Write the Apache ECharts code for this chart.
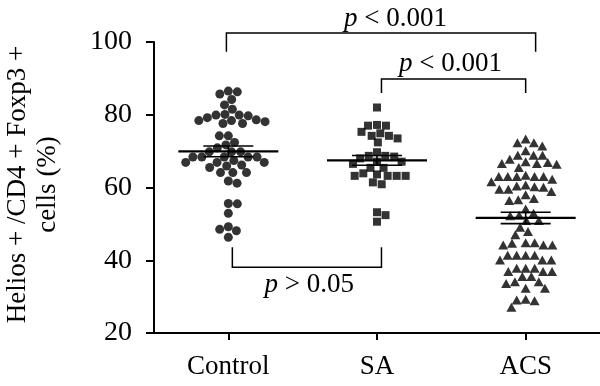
<!DOCTYPE html>
<html><head><meta charset="utf-8">
<script src="https://cdn.jsdelivr.net/npm/echarts@6/dist/echarts.min.js"></script>
<style>html,body{margin:0;padding:0;background:#fff}#c{width:600px;height:386px}</style>
</head><body><div id="c"></div>
<script>
const categories = ['Control', 'SA', 'ACS'];
const yMin = 20, yMax = 100, yInterval = 20;
const yAxisTitle = 'Helios + /CD4 + Foxp3 +\ncells (%)';

const controlValues = [86.5, 86.3, 85.7, 84.2, 82.7, 81.5, 80.1, 79.9, 79.9, 79.7, 79.2, 78.6, 78.4, 78.4, 78.1, 77.6, 77.6, 74.2, 74.2, 72.4, 71.7, 70.9, 69.8, 69.8, 69.8, 68.4, 68.4, 68.4, 68.4, 68.4, 67.4, 66.9, 66.9, 66.9, 66.2, 65.9, 65.5, 64.1, 64.1, 64.1, 61.8, 61.2, 55.6, 55.5, 52.9, 49.2, 48.5, 48.1, 46.3];
const saValues = [82.0, 77.2, 77.0, 77.0, 75.3, 74.9, 74.2, 74.2, 73.5, 72.4, 69.7, 68.7, 68.7, 68.5, 68.0, 67.1, 67.1, 66.5, 65.4, 65.4, 63.9, 63.6, 63.2, 63.2, 63.2, 63.2, 61.4, 60.9, 53.2, 52.4, 50.6];
const acsValues = [73.3, 72.3, 72.3, 71.4, 70.1, 68.9, 68.9, 68.9, 67.8, 67.1, 66.9, 66.6, 66.6, 66.4, 65.5, 63.4, 63.0, 63.0, 63.0, 63.0, 63.0, 62.3, 61.6, 60.7, 60.4, 60.2, 60.1, 59.5, 59.5, 58.9, 58.0, 57.0, 56.6, 56.4, 54.1, 52.9, 52.4, 52.2, 50.9, 50.9, 49.1, 47.9, 47.0, 44.8, 44.8, 44.7, 44.2, 44.2, 44.2, 41.4, 41.4, 41.4, 41.4, 40.1, 40.1, 40.1, 37.8, 37.8, 37.8, 36.9, 36.9, 36.9, 35.5, 35.5, 34.1, 34.1, 33.6, 32.3, 32.3, 29.3, 29.1, 28.9, 27.1];

const comparisonLabels = ['p < 0.001', 'p < 0.001', 'p > 0.05'];

const FONT = '"Liberation Serif", "DejaVu Serif", serif';
const FS = 27;
const groups = [controlValues, saValues, acsValues];
const symbols = ['circle', 'rect', 'triangle'];
const symbolSizes = [9, 8, [10, 9]];

function stats(a) {
  const n = a.length;
  const m = a.reduce((s, v) => s + v, 0) / n;
  const sd = Math.sqrt(a.reduce((s, v) => s + (v - m) * (v - m), 0) / (n - 1));
  return [m, sd / Math.sqrt(n)];
}

// annotation layout (x in category units, y in data units)
const brackets = [
  { x1: 0.987, x2: 3.067, y: 102.5, leg: 97.3, tx: 2.125, ty: 106.4, label: comparisonLabels[0] },
  { x1: 2.03, x2: 3.0, y: 89.8, leg: 86.0, tx: 2.495, ty: 93.9, label: comparisonLabels[1] },
  { x1: 1.027, x2: 2.03, y: 38.1, leg: 43.6, tx: 1.545, ty: 33.2, label: comparisonLabels[2] }
];

const chart = echarts.init(document.getElementById('c'), null, { renderer: 'canvas' });

function buildOption(scatterData) {
  const series = groups.map((g, i) => ({
    type: 'scatter',
    xAxisIndex: 1,
    yAxisIndex: 0,
    symbol: symbols[i],
    symbolSize: symbolSizes[i],
    itemStyle: { color: '#000' },
    silent: true,
    data: scatterData[i]
  }));
  series.push({
    type: 'custom',
    xAxisIndex: 1, yAxisIndex: 0, silent: true,
    data: groups.map((g, i) => { const s = stats(g); return [i + 1, s[0], s[1]]; }),
    renderItem: function (params, api) {
      const x = api.value(0), m = api.value(1), se = api.value(2);
      const c = api.coord([x, m]), hi = api.coord([x, m + se]), lo = api.coord([x, m - se]);
      const half = 50, cap = 25;
      const st = { stroke: '#000', lineWidth: 1.6 };
      return {
        type: 'group', children: [
          { type: 'line', shape: { x1: c[0] - half, y1: c[1], x2: c[0] + half, y2: c[1] }, style: { stroke: '#000', lineWidth: 2.2 } },
          { type: 'line', shape: { x1: c[0] - cap, y1: hi[1], x2: c[0] + cap, y2: hi[1] }, style: st },
          { type: 'line', shape: { x1: c[0] - cap, y1: lo[1], x2: c[0] + cap, y2: lo[1] }, style: st },
          { type: 'line', shape: { x1: c[0], y1: hi[1], x2: c[0], y2: lo[1] }, style: st }
        ]
      };
    }
  });
  series.push({
    type: 'custom',
    xAxisIndex: 1, yAxisIndex: 0, silent: true, clip: false,
    data: brackets.map((b, i) => [i]),
    renderItem: function (params, api) {
      const b = brackets[params.dataIndex];
      const a1 = api.coord([b.x1, b.y]), a2 = api.coord([b.x2, b.y]);
      const l1 = api.coord([b.x1, b.leg]), l2 = api.coord([b.x2, b.leg]);
      const t = api.coord([b.tx, b.ty]);
      const parts = b.label.split(' ');
      return {
        type: 'group', children: [
          { type: 'polyline', shape: { points: [l1, a1, a2, l2] }, style: { stroke: '#000', lineWidth: 1.5, fill: null } },
          { type: 'text', x: t[0], y: t[1], style: {
              text: '{i|' + parts[0] + '} ' + parts.slice(1).join(' '),
              rich: { i: { fontStyle: 'italic', fontFamily: FONT, fontSize: FS, fill: '#000' } },
              fontFamily: FONT, fontSize: FS, fill: '#000', align: 'center', verticalAlign: 'middle' } }
        ]
      };
    }
  });
  return {
    animation: false,
    backgroundColor: '#fff',
    grid: { left: 154, right: 0, top: 42, bottom: 53, containLabel: false, outerBoundsMode: 'none' },
    xAxis: [
      { type: 'category', data: categories, boundaryGap: true,
        axisLine: { show: true, lineStyle: { color: '#000', width: 2 } },
        axisTick: { show: true, alignWithLabel: true, length: 7, lineStyle: { color: '#000', width: 2 } },
        axisLabel: { color: '#000', fontFamily: FONT, fontSize: FS, margin: 20 },
        splitLine: { show: false } },
      { type: 'value', min: 0.5, max: 3.5, show: false }
    ],
    yAxis: [{
      type: 'value', min: yMin, max: yMax, interval: yInterval,
      name: yAxisTitle, nameLocation: 'middle', nameGap: 91,
      nameTextStyle: { color: '#000', fontFamily: FONT, fontSize: FS, lineHeight: 30, padding: [0, 0, 0, 6] },
      axisLine: { show: true, lineStyle: { color: '#000', width: 2 } },
      axisTick: { show: true, length: 8, lineStyle: { color: '#000', width: 2 } },
      axisLabel: { color: '#000', fontFamily: FONT, fontSize: 28, margin: 22 },
      splitLine: { show: false }
    }],
    series: series
  };
}

function beeswarm(pts, d) {
  const order = pts.map((p, i) => i).sort((a, b) => pts[a].y - pts[b].y);
  const placed = [];
  const xs = new Array(pts.length);
  let flip = 1;
  for (const i of order) {
    const y = pts[i].y, cx = pts[i].x;
    const near = placed.filter(p => Math.abs(p.y - y) < d);
    const cands = [0];
    near.forEach(p => {
      const dx = Math.sqrt(d * d - (p.y - y) * (p.y - y));
      cands.push(p.x - cx + dx, p.x - cx - dx);
    });
    cands.sort((a, b) => Math.abs(a) - Math.abs(b) || (flip * (a - b)));
    let best = 0;
    for (const c of cands) {
      if (near.every(p => (p.x - cx - c) ** 2 + (p.y - y) ** 2 >= d * d - 1e-6)) { best = c; break; }
    }
    flip = -flip;
    xs[i] = cx + best;
    placed.push({ x: cx + best, y: y });
  }
  return xs;
}

const initial = groups.map((g, i) => g.map(v => [i + 1, v]));
chart.setOption(buildOption(initial));
const finder = { xAxisIndex: 1, yAxisIndex: 0 };
const swarm = groups.map((g, i) => {
  const pts = g.map(v => { const p = chart.convertToPixel(finder, [i + 1, v]); return { x: p[0], y: p[1] }; });
  const xs = beeswarm(pts, 9);
  return g.map((v, k) => [chart.convertFromPixel(finder, [xs[k], pts[k].y])[0], v]);
});
chart.setOption(buildOption(swarm), true);
</script>
</body></html>
